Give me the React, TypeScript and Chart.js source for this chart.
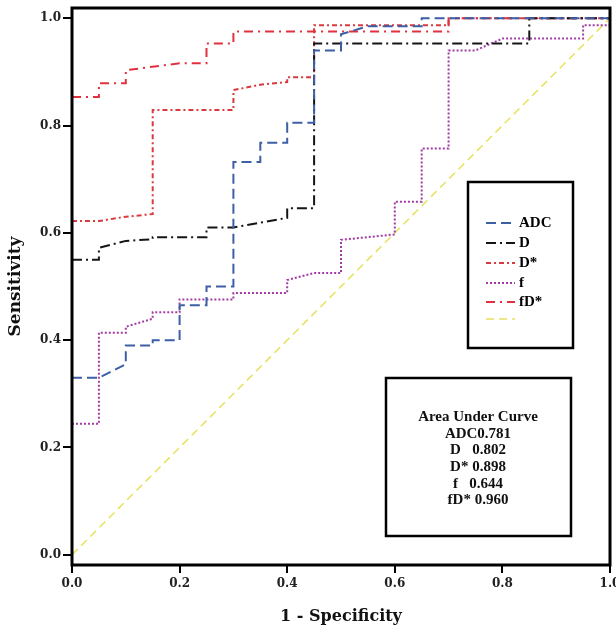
import React, { useEffect, useRef } from "react";
import { Chart, registerables } from "chart.js";

Chart.register(...registerables);

// ---- data ----
const seriesLabels = ["ADC", "D", "D*", "f", "fD*", ""];

const adcX = [0, 0.05, 0.1, 0.1, 0.15, 0.15, 0.2, 0.2, 0.25, 0.25, 0.3, 0.3, 0.35, 0.35, 0.4, 0.4, 0.45, 0.45, 0.5, 0.5, 0.55, 0.65, 0.65, 1.0];
const adcY = [0.33, 0.33, 0.355, 0.39, 0.39, 0.4, 0.4, 0.465, 0.465, 0.5, 0.5, 0.732, 0.732, 0.768, 0.768, 0.805, 0.805, 0.94, 0.94, 0.97, 0.985, 0.985, 1.0, 1.0];

const dX = [0, 0.05, 0.05, 0.1, 0.15, 0.15, 0.25, 0.25, 0.3, 0.4, 0.4, 0.45, 0.45, 0.85, 0.85, 1.0];
const dY = [0.55, 0.55, 0.572, 0.585, 0.588, 0.592, 0.592, 0.61, 0.61, 0.628, 0.646, 0.646, 0.953, 0.953, 1.0, 1.0];

const dStarX = [0, 0.05, 0.1, 0.15, 0.15, 0.3, 0.3, 0.35, 0.4, 0.4, 0.45, 0.45, 0.7, 0.7, 1.0];
const dStarY = [0.622, 0.622, 0.63, 0.635, 0.829, 0.829, 0.866, 0.876, 0.881, 0.89, 0.89, 0.987, 0.987, 1.0, 1.0];

const fX = [0, 0.05, 0.05, 0.1, 0.1, 0.15, 0.15, 0.2, 0.2, 0.3, 0.3, 0.4, 0.4, 0.45, 0.5, 0.5, 0.6, 0.6, 0.65, 0.65, 0.7, 0.7, 0.75, 0.8, 0.95, 0.95, 1.0, 1.0];
const fY = [0.244, 0.244, 0.414, 0.414, 0.425, 0.44, 0.452, 0.452, 0.476, 0.476, 0.488, 0.488, 0.512, 0.525, 0.525, 0.587, 0.597, 0.658, 0.658, 0.757, 0.757, 0.94, 0.94, 0.962, 0.962, 0.987, 0.987, 1.0];

const fdStarX = [0, 0.05, 0.05, 0.1, 0.1, 0.2, 0.25, 0.25, 0.3, 0.3, 0.7, 0.7, 1.0];
const fdStarY = [0.853, 0.853, 0.879, 0.879, 0.903, 0.916, 0.916, 0.953, 0.953, 0.975, 0.975, 1.0, 1.0];

const refX = [0, 1];
const refY = [0, 1];

const aucLabels = ["ADC", "D", "D*", "f", "fD*"];
const aucValues = ["0.781", "0.802", "0.898", "0.644", "0.960"];
const aucPads = ["", "   ", " ", "   ", " "];

const xTicks = [0, 0.2, 0.4, 0.6, 0.8, 1.0];
const yTicks = [0, 0.2, 0.4, 0.6, 0.8, 1.0];

// ---- styles ----
const colors = ["#3c5fa6", "#151515", "#d83a3e", "#a23ca4", "#e2303e", "#e6e25c"];
const dashes = [
  [10, 5],
  [10, 4, 2, 4],
  [5, 3, 2, 3],
  [2, 2],
  [9, 5, 2, 5],
  [8, 5],
];
const widths = [2, 2, 2, 2, 2, 1.5];

const toPts = (xs: number[], ys: number[]) => xs.map((x, i) => ({ x, y: ys[i] }));

const overlayPlugin = {
  id: "overlay",
  afterDraw(chart: any) {
    const { ctx, chartArea } = chart;
    const { left, top, right, bottom } = chartArea;
    ctx.save();
    // frame
    ctx.strokeStyle = "#000";
    ctx.lineWidth = 3;
    ctx.setLineDash([]);
    ctx.strokeRect(left, top, right - left, bottom - top);

    // legend box
    const lx = left + 396;
    const ly = top + 174;
    ctx.lineWidth = 2.5;
    ctx.strokeRect(lx, ly, 105, 166);
    const rows = [41, 61, 81, 101, 120, 137];
    ctx.font = "bold 15px 'Liberation Serif'";
    ctx.textBaseline = "middle";
    ctx.textAlign = "left";
    chart.data.datasets.forEach((ds: any, i: number) => {
      const yy = ly + rows[i];
      ctx.strokeStyle = ds.borderColor;
      ctx.lineWidth = ds.borderWidth;
      ctx.setLineDash(ds.borderDash);
      ctx.beginPath();
      ctx.moveTo(lx + 18, yy);
      ctx.lineTo(lx + 47, yy);
      ctx.stroke();
      ctx.setLineDash([]);
      ctx.fillStyle = "#000";
      ctx.fillText(ds.label, lx + 51, yy);
    });

    // AUC box
    const ax = left + 314;
    const ay = top + 370;
    ctx.strokeStyle = "#000";
    ctx.lineWidth = 2.5;
    ctx.strokeRect(ax, ay, 185, 158);
    ctx.textAlign = "center";
    ctx.fillStyle = "#111";
    ctx.font = "bold 15px 'Liberation Serif'";
    const cx = ax + 92;
    ctx.fillText("Area Under Curve", cx, ay + 39);
    aucLabels.forEach((lab, i) => {
      ctx.fillText(lab + aucPads[i] + aucValues[i], cx, ay + 56 + i * 16.6);
    });
    ctx.restore();
  },
};

export default function App() {
  const ref = useRef<HTMLCanvasElement>(null);
  useEffect(() => {
    document.body.style.margin = "0";
    const xs = [adcX, dX, dStarX, fX, fdStarX, refX];
    const ys = [adcY, dY, dStarY, fY, fdStarY, refY];
    const chart = new Chart(ref.current!, {
      type: "line",
      data: {
        datasets: seriesLabels.map((label, i) => ({
          label,
          data: toPts(xs[i], ys[i]),
          borderColor: colors[i],
          borderWidth: widths[i],
          borderDash: dashes[i],
          pointRadius: 0,
          tension: 0,
          fill: false,
        })),
      },
      options: {
        responsive: false,
        animation: false,
        layout: { padding: { top: 8, right: 6, left: 0, bottom: 0 } },
        plugins: { legend: { display: false }, tooltip: { enabled: false } },
        scales: {
          x: {
            type: "linear",
            min: 0,
            max: 1,
            afterBuildTicks: (axis: any) => {
              axis.ticks = xTicks.map((v) => ({ value: v }));
            },
            afterFit: (s: any) => {
              s.height = 63;
              s.paddingLeft = 0;
              s.paddingRight = 0;
            },
            border: { display: false },
            grid: { display: true, drawOnChartArea: false, drawTicks: true, tickLength: 8, color: "#000", lineWidth: 2 },
            ticks: {
              padding: 4,
              color: "#222",
              font: { family: "'DejaVu Serif'", weight: "bold", size: 12 },
              callback: (v: any) => Number(v).toFixed(1),
              maxRotation: 0,
            },
            title: {
              display: true,
              text: "1 - Specificity",
              color: "#111",
              font: { family: "'DejaVu Serif'", weight: "bold", size: 16 },
              padding: { top: 0, bottom: 2 },
            },
          },
          y: {
            type: "linear",
            min: -0.019,
            max: 1.019,
            afterBuildTicks: (axis: any) => {
              axis.ticks = yTicks.map((v) => ({ value: v }));
            },
            afterFit: (s: any) => {
              s.width = 72;
              s.paddingTop = 0;
              s.paddingBottom = 0;
            },
            border: { display: false },
            grid: { display: true, drawOnChartArea: false, drawTicks: true, tickLength: 9, color: "#000", lineWidth: 2 },
            ticks: {
              padding: 2,
              color: "#222",
              font: { family: "'DejaVu Serif'", weight: "bold", size: 12 },
              callback: (v: any) => Number(v).toFixed(1),
            },
            title: {
              display: true,
              text: "Sensitivity",
              color: "#111",
              font: { family: "'DejaVu Serif'", weight: "bold", size: 17 },
              padding: { top: 5, bottom: 0 },
            },
          },
        },
      },
      plugins: [overlayPlugin],
    } as any);
    return () => chart.destroy();
  }, []);
  return <canvas ref={ref} width={616} height={628} style={{ display: "block" }} />;
}
